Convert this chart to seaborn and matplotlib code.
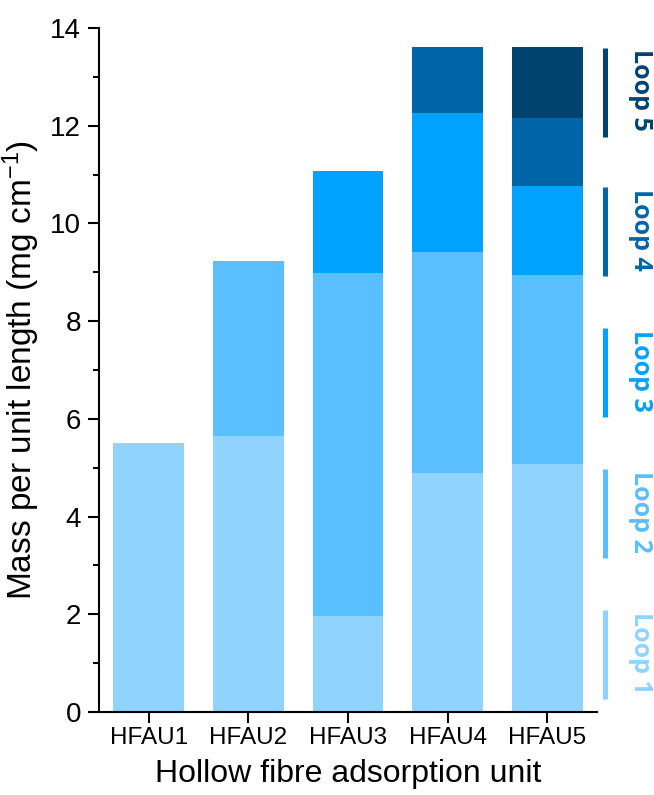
import numpy as np
import pandas as pd
import matplotlib
matplotlib.use("Agg")
import matplotlib.pyplot as plt
from matplotlib.ticker import MultipleLocator
import seaborn as sns

units = ["HFAU1", "HFAU2", "HFAU3", "HFAU4", "HFAU5"]
loops = ["Loop 1", "Loop 2", "Loop 3", "Loop 4", "Loop 5"]

# mass added in each loop (mg cm-1)
loop1 = [5.50, 5.65, 1.97, 4.89, 5.08]
loop2 = [0.00, 3.58, 7.01, 4.52, 3.86]
loop3 = [0.00, 0.00, 2.09, 2.85, 1.83]
loop4 = [0.00, 0.00, 0.00, 1.35, 1.39]
loop5 = [0.00, 0.00, 0.00, 0.00, 1.45]

colors = ["#8fd3fe", "#5abffe", "#00a2ff", "#0065a7", "#00436f"]

sns.set_theme(style="ticks")
plt.rcParams["font.family"] = ["Liberation Sans", "DejaVu Sans"]
plt.rcParams["text.color"] = "black"
plt.rcParams["axes.labelcolor"] = "black"
plt.rcParams["xtick.color"] = "black"
plt.rcParams["ytick.color"] = "black"
plt.rcParams["mathtext.fontset"] = "custom"
plt.rcParams["mathtext.rm"] = "Liberation Sans"
plt.rcParams["mathtext.it"] = "Liberation Sans:italic"
plt.rcParams["mathtext.bf"] = "Liberation Sans:bold"

segments = np.array([loop1, loop2, loop3, loop4, loop5])
tops = np.cumsum(segments, axis=0)

fig = plt.figure(figsize=(6.54, 7.95), dpi=100)
ax = fig.add_axes([0.1514, 0.1044, 0.7614, 0.8604])

# stacked bars: draw cumulative heights from the top loop down
for i in range(len(loops) - 1, -1, -1):
    df = pd.DataFrame({"unit": units, "mass": tops[i]})
    df = df[segments[i] > 0]
    sns.barplot(data=df, x="unit", y="mass", order=units, color=colors[i],
                saturation=1, width=0.71, ax=ax, edgecolor="none", linewidth=0)

ax.set_xlim(-0.5, 4.5)
ax.set_ylim(0, 14)
ax.yaxis.set_major_locator(MultipleLocator(2))
ax.yaxis.set_minor_locator(MultipleLocator(1))
ax.tick_params(axis="y", which="major", length=8, width=1.5, labelsize=20, direction="out", pad=5)
ax.tick_params(axis="y", which="minor", length=4.5, width=1.5, direction="out")
ax.tick_params(axis="x", which="major", length=8, width=1.5, labelsize=17.5, direction="out", pad=3)
for s in ["top", "right"]:
    ax.spines[s].set_visible(False)
for s in ["left", "bottom"]:
    ax.spines[s].set_linewidth(1.5)
    ax.spines[s].set_color("black")

ax.set_xlabel("Hollow fibre adsorption unit", fontsize=23, labelpad=7)
ax.set_ylabel("Mass per unit length (mg cm$^{\\mathregular{-1}}$)", fontsize=24, labelpad=6)

# loop key drawn to the right of the bars
centers = [0.084, 0.290, 0.496, 0.702, 0.906]
half = 0.065
for i, (name, c) in enumerate(zip(loops, colors)):
    yc = centers[i]
    ax.plot([1.0165, 1.0165], [yc - half, yc + half], color=c, lw=3.6,
            transform=ax.transAxes, clip_on=False, solid_capstyle="butt")
    ax.text(1.087, yc + 0.003, name, color=c, rotation=270, ha="center", va="center",
            fontsize=18, fontweight="bold", family=["Open Sans", "DejaVu Sans"],
            transform=ax.transAxes, clip_on=False)

fig.savefig("out.png", dpi=100)
